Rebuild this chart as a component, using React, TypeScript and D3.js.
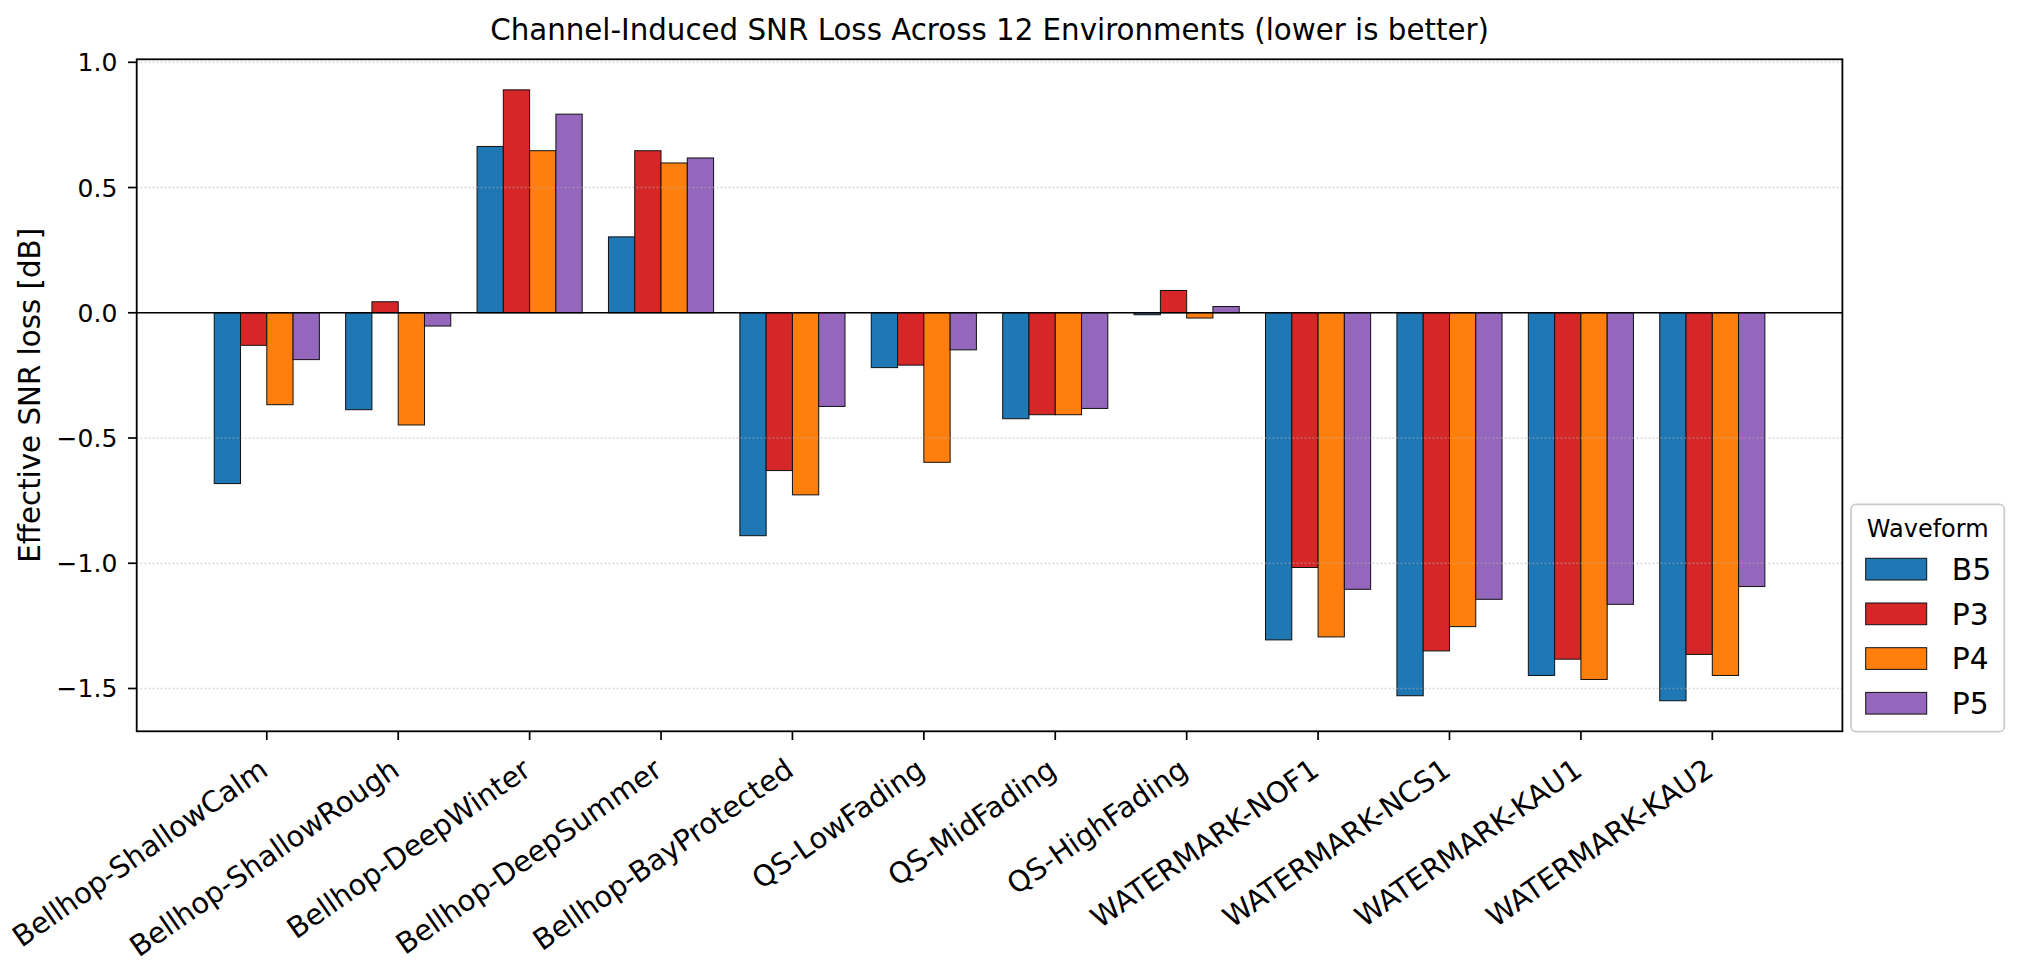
import React from "react";
import * as d3 from "d3";

const categories = [
  "Bellhop-ShallowCalm",
  "Bellhop-ShallowRough",
  "Bellhop-DeepWinter",
  "Bellhop-DeepSummer",
  "Bellhop-BayProtected",
  "QS-LowFading",
  "QS-MidFading",
  "QS-HighFading",
  "WATERMARK-NOF1",
  "WATERMARK-NCS1",
  "WATERMARK-KAU1",
  "WATERMARK-KAU2",
];

const waveforms = ["B5", "P3", "P4", "P5"];
const colors = ["#1f77b4", "#d62728", "#ff7f0e", "#9467bd"];

const b5 = [-0.682, -0.387, 0.664, 0.303, -0.89, -0.219, -0.423, -0.008, -1.306, -1.529, -1.448, -1.549];
const p3 = [-0.13, 0.044, 0.89, 0.647, -0.63, -0.209, -0.407, 0.089, -1.017, -1.35, -1.383, -1.364];
const p4 = [-0.367, -0.448, 0.647, 0.598, -0.727, -0.597, -0.407, -0.021, -1.294, -1.253, -1.464, -1.448];
const p5 = [-0.187, -0.053, 0.793, 0.618, -0.374, -0.148, -0.382, 0.025, -1.104, -1.144, -1.164, -1.093];

const series = [b5, p3, p4, p5];
const yTicks = [-1.5, -1.0, -0.5, 0.0, 0.5, 1.0];

const W = 2021;
const H = 963;
const left = 136.7;
const right = 1842.4;
const top = 59.3;
const bottom = 731.3;
const barW = 0.2;
const font = "DejaVu Sans, sans-serif";

export default function App() {
  // matplotlib style 5% margins
  const allVals = series.flat().concat([0]);
  const [ymin, ymax] = d3.extent(allVals) as [number, number];
  const ypad = (ymax - ymin) * 0.05;
  const y = d3.scaleLinear().domain([ymin - ypad, ymax + ypad]).range([bottom, top]);

  const xlo = -2 * barW;
  const xhi = categories.length - 1 + 2 * barW;
  const xpad = (xhi - xlo) * 0.05;
  const x = d3.scaleLinear().domain([xlo - xpad, xhi + xpad]).range([left, right]);
  const pxPerUnit = x(1) - x(0);

  const bars = series.flatMap((vals, s) =>
    vals.map((v, i) => ({ s, i, v, cx: i + (s - 1.5) * barW }))
  );

  const legX = 1851;
  const legY = 504.3;

  return (
    <div style={{ position: "fixed", left: 0, top: 0 }}>
      <svg width={W} height={H} style={{ display: "block", background: "#fff" }}>
        {/* bars */}
        {bars.map((b) => (
          <rect
            key={`${b.s}-${b.i}`}
            x={x(b.cx - barW / 2)}
            y={Math.min(y(b.v), y(0))}
            width={pxPerUnit * barW}
            height={Math.abs(y(b.v) - y(0))}
            fill={colors[b.s]}
            stroke="#111"
            strokeWidth={1}
          />
        ))}

        {/* grid */}
        {yTicks.map((t) => (
          <line
            key={`g${t}`}
            x1={left}
            x2={right}
            y1={y(t)}
            y2={y(t)}
            stroke="#b0b0b0"
            strokeOpacity={0.6}
            strokeWidth={1.5}
            strokeDasharray="1.5,2.5"
          />
        ))}

        {/* zero line */}
        <line x1={left} x2={right} y1={y(0)} y2={y(0)} stroke="#000" strokeWidth={1.5} />

        {/* spines */}
        <rect x={left} y={top} width={right - left} height={bottom - top} fill="none" stroke="#000" strokeWidth={1.8} />

        {/* y ticks */}
        {yTicks.map((t) => (
          <g key={`yt${t}`}>
            <line x1={left - 8.7} x2={left} y1={y(t)} y2={y(t)} stroke="#000" strokeWidth={1.7} />
            <text
              x={left - 19.4}
              y={y(t)}
              dy="0.36em"
              textAnchor="end"
              fontFamily={font}
              fontSize={25}
              fill="#000"
            >
              {t === 0 ? "0.0" : d3.format(".1f")(t).replace("-", "\u2212")}
            </text>
          </g>
        ))}

        {/* x ticks */}
        {categories.map((c, i) => {
          const tx = x(i);
          const ax = tx + 3;
          const ay = 774;
          return (
            <g key={c}>
              <line x1={tx} x2={tx} y1={bottom} y2={bottom + 8.7} stroke="#000" strokeWidth={1.7} />
              <text
                x={ax}
                y={ay}
                textAnchor="end"
                transform={`rotate(-35 ${ax} ${ay})`}
                fontFamily={font}
                fontSize={28.8}
                fill="#000"
              >
                {c}
              </text>
            </g>
          );
        })}

        {/* y label */}
        <text
          transform={`translate(40, ${(top + bottom) / 2}) rotate(-90)`}
          textAnchor="middle"
          fontFamily={font}
          fontSize={29.3}
          fill="#000"
        >
          Effective SNR loss [dB]
        </text>

        {/* title */}
        <text x={(left + right) / 2} y={40} textAnchor="middle" fontFamily={font} fontSize={29.3} fill="#000">
          Channel-Induced SNR Loss Across 12 Environments (lower is better)
        </text>

        {/* legend */}
        <rect
          x={legX}
          y={legY}
          width={153.3}
          height={227.4}
          rx={5}
          fill="#fff"
          fillOpacity={0.8}
          stroke="#cccccc"
          strokeWidth={1.8}
        />
        <text x={legX + 76.7} y={536.7} textAnchor="middle" fontFamily={font} fontSize={24} fill="#000">
          Waveform
        </text>
        {waveforms.map((wf, k) => {
          const py = 558.3 + k * 44.7;
          return (
            <g key={wf}>
              <rect x={1865.7} y={py} width={61} height={21.7} fill={colors[k]} stroke="#111" strokeWidth={1} />
              <text x={1951.7} y={py + 21.7} fontFamily={font} fontSize={29.8} fill="#000">
                {wf}
              </text>
            </g>
          );
        })}
      </svg>
    </div>
  );
}
